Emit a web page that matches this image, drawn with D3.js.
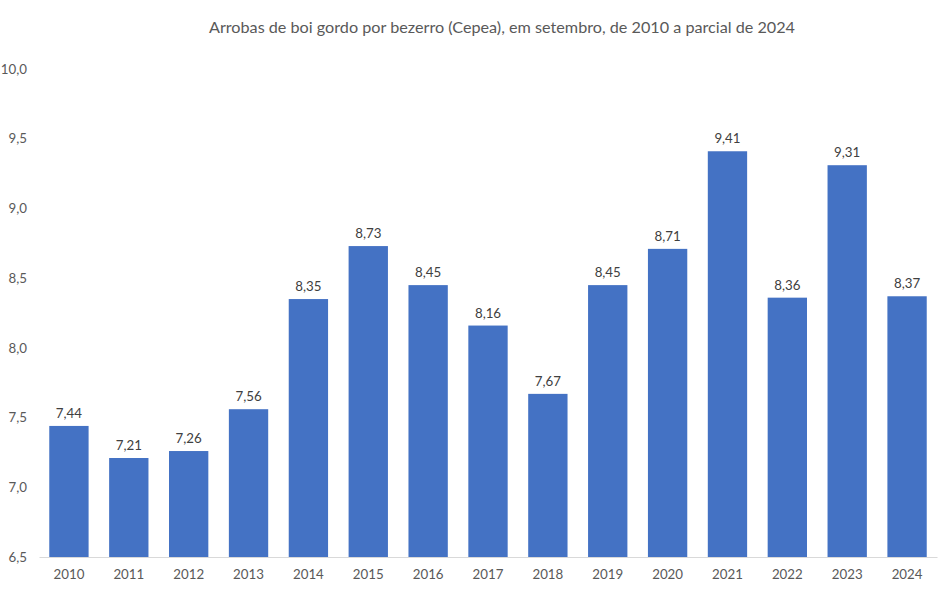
<!DOCTYPE html>
<html>
<head>
<meta charset="utf-8">
<script src="https://cdn.jsdelivr.net/npm/d3@7"></script>
<style>
  body { margin: 0; background: #fff; }
  svg text { font-family: Lato, "Open Sans", sans-serif; }
</style>
</head>
<body>
<svg id="chart" width="950" height="591"></svg>
<script>
const title = "Arrobas de boi gordo por bezerro (Cepea), em setembro, de 2010 a parcial de 2024";
const years = ["2010","2011","2012","2013","2014","2015","2016","2017","2018","2019","2020","2021","2022","2023","2024"];
const values = [7.44, 7.21, 7.26, 7.56, 8.35, 8.73, 8.45, 8.16, 7.67, 8.45, 8.71, 9.41, 8.36, 9.31, 8.37];
const yTicks = [6.5, 7.0, 7.5, 8.0, 8.5, 9.0, 9.5, 10.0];

const svg = d3.select("#chart");
const fmt2 = v => v.toFixed(2).replace(".", ",");
const fmt1 = v => v.toFixed(1).replace(".", ",");

const x = d3.scaleBand().domain(years).range([39, 937]).paddingInner(0.343).paddingOuter(0.1715);
const y = d3.scaleLinear().domain([6.5, 10]).range([557, 69]);

svg.append("text")
  .attr("x", 502).attr("y", 33)
  .attr("text-anchor", "middle")
  .attr("font-size", 16.2)
  .attr("fill", "#595959")
  .text(title);

// y axis labels
const yAxis = d3.axisLeft(y).tickValues(yTicks).tickFormat(fmt1).tickSize(0).tickPadding(0);
const gy = svg.append("g").attr("transform", "translate(27,0)").call(yAxis);
gy.select(".domain").remove();
gy.selectAll("text").attr("font-size", 13.3).attr("fill", "#595959").attr("font-family", "Lato, 'Open Sans', sans-serif");

// bars
svg.append("g").selectAll("rect").data(values).join("rect")
  .attr("x", (d, i) => x(years[i]))
  .attr("width", x.bandwidth())
  .attr("y", d => y(d))
  .attr("height", d => y(6.5) - y(d))
  .attr("fill", "#4472C4");

// x axis
const xAxis = d3.axisBottom(x).tickSize(0).tickPadding(13);
const gx = svg.append("g").attr("transform", `translate(0,${y(6.5)})`).call(xAxis);
gx.select(".domain").attr("stroke", "#d9d9d9").attr("stroke-width", 1);
gx.selectAll("text").attr("font-size", 13.3).attr("fill", "#595959").attr("font-family", "Lato, 'Open Sans', sans-serif");

// value labels
svg.append("g").selectAll("text").data(values).join("text")
  .attr("x", (d, i) => x(years[i]) + x.bandwidth() / 2)
  .attr("y", d => y(d) - 8)
  .attr("text-anchor", "middle")
  .attr("font-size", 13.3)
  .attr("fill", "#404040")
  .text(fmt2);
</script>
</body>
</html>
